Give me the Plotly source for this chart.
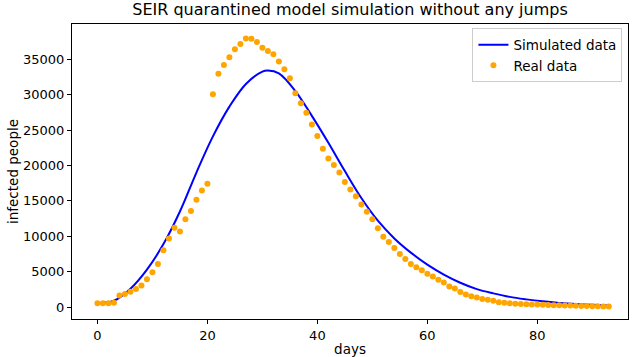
import plotly.graph_objects as go

# Real data (days 0..93)
real_days = list(range(94))
real_infected = [
    560, 560, 560, 610, 1630, 1860, 2190, 2560, 3060, 3950,
    4930, 6080, 8030, 9700, 11190, 10680, 12420, 13560, 15170, 16480,
    17400, 30030, 32950, 34160, 35280, 36390, 37130, 37920, 37870, 37410,
    36610, 36160, 35700, 34670, 33580, 32300, 30170, 28780, 27430, 25760,
    24140, 22370, 20980, 20050, 18990, 17680, 16620, 15650, 14480, 13460,
    12390, 11140, 9940, 9200, 8350, 7520, 6780, 6080, 5620, 5210,
    4730, 4320, 3860, 3480, 2920, 2650, 2140, 1770, 1530, 1350,
    1170, 1030, 890, 700, 610, 540, 480, 450, 420, 390,
    360, 330, 300, 280, 260, 240, 220, 200, 180, 160,
    140, 120, 100, 80,
]

# Simulated curve, read at sample days
sim_days = [0, 3, 6, 9, 12, 15, 18, 21, 24, 27, 30, 31, 33, 36, 39, 42, 45,
            48, 51, 54, 57, 60, 63, 66, 69, 72, 75, 78, 81, 84, 87, 90, 93]
sim_infected = [560, 900, 2600, 5300, 8900, 13500, 19000, 24100, 28300, 31500,
                33250, 33400, 33000, 30500, 27000, 23200, 19200, 15400, 12200,
                9700, 7700, 6000, 4600, 3450, 2550, 1950, 1450, 1100, 820,
                600, 440, 330, 250]

y_ticks = [0, 5000, 10000, 15000, 20000, 25000, 30000, 35000]
x_ticks = [0, 20, 40, 60, 80]

font = "DejaVu Sans, Verdana, sans-serif"

fig = go.Figure()
fig.add_trace(go.Scatter(
    x=sim_days, y=sim_infected, mode="lines", name="Simulated data",
    line=dict(color="blue", width=2, shape="spline", smoothing=1.0),
))
fig.add_trace(go.Scatter(
    x=real_days, y=real_infected, mode="markers", name="Real data",
    marker=dict(color="orange", size=6),
))

fig.update_layout(
    width=632, height=357,
    margin=dict(l=72, r=3, t=24, b=34),
    paper_bgcolor="white", plot_bgcolor="white",
    font=dict(family=font, size=13, color="black"),
    title=dict(text="SEIR quarantined model simulation without any jumps",
               x=0.5, xref="paper", xanchor="center",
               y=1, yref="container", yanchor="top", pad=dict(t=4),
               font=dict(size=16, family=font, color="black")),
    showlegend=True,
    legend=dict(x=0.99, y=0.985, xanchor="right", yanchor="top",
                bgcolor="rgba(255,255,255,0.8)", bordercolor="#cccccc",
                borderwidth=1, font=dict(size=13.5, family=font),
                itemwidth=30, tracegroupgap=0),
)
fig.update_xaxes(
    range=[-4.63, 96.5], tickvals=x_ticks, ticktext=[str(t) for t in x_ticks],
    showline=True, linecolor="black", linewidth=1, mirror=True,
    ticks="outside", ticklen=4, tickcolor="black", showgrid=False, zeroline=False,
    title=dict(text="days", font=dict(size=13.5, family=font), standoff=2),
)
fig.update_yaxes(
    range=[-1670, 39960], tickvals=y_ticks, ticktext=[str(t) for t in y_ticks],
    showline=True, linecolor="black", linewidth=1, mirror=True,
    ticks="outside", ticklen=4, tickcolor="black", showgrid=False, zeroline=False,
    title=dict(text="infected people", font=dict(size=13.5, family=font), standoff=1),
)

fig.write_html("out.html")
